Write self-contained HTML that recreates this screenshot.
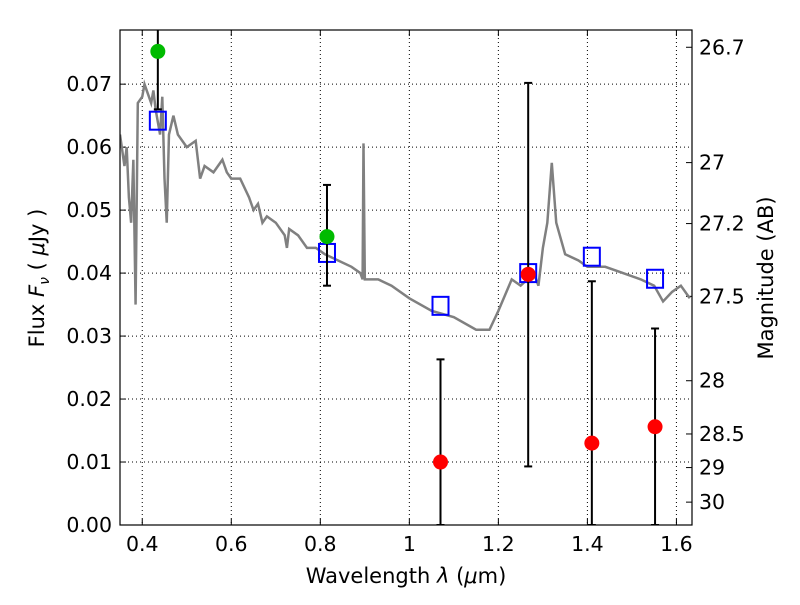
<!DOCTYPE html>
<html><head><meta charset="utf-8"><style>
body{margin:0;background:#fff;}
svg text{font-family:"DejaVu Sans","Liberation Sans",sans-serif;fill:#000;}
</style></head><body>
<svg id="c" width="800" height="600" xmlns="http://www.w3.org/2000/svg"></svg>
<script>
const xTicks=[0.4,0.6,0.8,1,1.2,1.4,1.6];
const xTickLabels=["0.4","0.6","0.8","1","1.2","1.4","1.6"];
const yTicks=[0,0.01,0.02,0.03,0.04,0.05,0.06,0.07];
const yTickLabels=["0.00","0.01","0.02","0.03","0.04","0.05","0.06","0.07"];
const magTicks=[26.7,27,27.2,27.5,28,28.5,29,30];
const magTickLabels=["26.7","27","27.2","27.5","28","28.5","29","30"];
const specWave=[0.35,0.36,0.365,0.37,0.375,0.38,0.385,0.39,0.40,0.405,0.41,0.42,0.425,0.43,0.44,0.445,0.45,0.455,0.46,0.47,0.48,0.50,0.52,0.53,0.54,0.56,0.58,0.59,0.60,0.62,0.64,0.65,0.66,0.67,0.68,0.70,0.72,0.725,0.73,0.75,0.77,0.79,0.81,0.84,0.87,0.89,0.895,0.897,0.90,0.93,0.96,1.00,1.05,1.10,1.15,1.18,1.20,1.23,1.25,1.28,1.29,1.30,1.31,1.32,1.33,1.35,1.38,1.40,1.44,1.48,1.52,1.55,1.57,1.59,1.61,1.63];
const specFlux=[0.062,0.057,0.060,0.052,0.048,0.058,0.035,0.067,0.068,0.070,0.069,0.067,0.069,0.066,0.062,0.068,0.055,0.048,0.062,0.065,0.062,0.060,0.061,0.055,0.057,0.056,0.058,0.056,0.055,0.055,0.052,0.050,0.051,0.048,0.049,0.048,0.046,0.044,0.047,0.046,0.044,0.044,0.043,0.042,0.041,0.040,0.039,0.0606,0.039,0.039,0.038,0.036,0.034,0.033,0.031,0.031,0.034,0.039,0.038,0.040,0.038,0.044,0.048,0.0575,0.048,0.043,0.042,0.041,0.041,0.040,0.039,0.038,0.0355,0.037,0.038,0.036];
const obsWave=[0.435,0.815,1.07,1.267,1.41,1.552];
const obsFlux=[0.0752,0.0458,0.010,0.0398,0.013,0.0156];
const obsLow=[0.066,0.038,0,0.0093,0,0];
const obsHigh=[0.09,0.054,0.0263,0.0702,0.0387,0.0312];
const obsColor=["#00bb00","#00bb00","#ff0000","#ff0000","#ff0000","#ff0000"];
const modelFlux=[0.0642,0.0432,0.0348,0.0400,0.0426,0.0391];

const L=120,R=692,T=30,B=525,X0=0.35,X1=1.635,Y0=0,Y1=0.0786;
const sx=v=>L+(v-X0)/(X1-X0)*(R-L);
const sy=v=>B-(v-Y0)/(Y1-Y0)*(B-T);
const svg=document.getElementById('c');const NS="http://www.w3.org/2000/svg";
function mk(t,a,p){const e=document.createElementNS(NS,t);for(const k in a)e.setAttribute(k,a[k]);(p||svg).appendChild(e);return e;}
const clip=mk('clipPath',{id:'pc'});mk('rect',{x:L,y:T,width:R-L,height:B-T},clip);
const grid=mk('g',{});
xTicks.forEach((v,i)=>{const x=sx(v);
 mk('line',{x1:x,x2:x,y1:T,y2:B,stroke:'#000','stroke-dasharray':'1,3','stroke-width':1},grid);
 mk('line',{x1:x,x2:x,y1:B,y2:B-6,stroke:'#000'});mk('line',{x1:x,x2:x,y1:T,y2:T+6,stroke:'#000'});
 const t=mk('text',{x:x,y:B+26,'font-size':20.5,'text-anchor':'middle'});t.textContent=xTickLabels[i];
 });
yTicks.forEach((v,i)=>{const y=sy(v);
 mk('line',{x1:L,x2:R,y1:y,y2:y,stroke:'#000','stroke-dasharray':'1,3','stroke-width':1},grid);
 mk('line',{x1:L,x2:L+6,y1:y,y2:y,stroke:'#000'});
 const t=mk('text',{x:L-8,y:y+7,'font-size':20.5,'text-anchor':'end'});t.textContent=yTickLabels[i];
 });
magTicks.forEach((m,i)=>{const y=sy(Math.pow(10,(23.9-m)/2.5));
 mk('line',{x1:R,x2:R-6,y1:y,y2:y,stroke:'#000'});
 const t=mk('text',{x:R+7,y:y+7,'font-size':20.5});t.textContent=magTickLabels[i];
 });
const sp=mk('polyline',{points:specWave.map((w,i)=>sx(w)+','+sy(specFlux[i])).join(' '),fill:'none',stroke:'#808080','stroke-width':2.5,'clip-path':'url(#pc)'});

obsWave.forEach((w,i)=>{const x=sx(w);
 const sq=mk('rect',{x:x-8,y:sy(modelFlux[i])-9,width:16,height:18,fill:'none',stroke:'#0000ff','stroke-width':2});
 
 const g=mk('g',{'clip-path':'url(#pc)'});
 mk('line',{x1:x,x2:x,y1:sy(obsLow[i]),y2:sy(obsHigh[i]),stroke:'#000','stroke-width':2},g);
 [obsLow[i],obsHigh[i]].forEach(v=>mk('line',{x1:x-4,x2:x+4,y1:sy(v),y2:sy(v),stroke:'#000','stroke-width':2},g));
 const c=mk('circle',{cx:x,cy:sy(obsFlux[i]),r:7.5,fill:obsColor[i]});
 });
const fr=mk('rect',{x:L,y:T,width:R-L,height:B-T,fill:'none',stroke:'#000','stroke-width':1.2});

let t=mk('text',{x:406,y:583,'font-size':21,'text-anchor':'middle'});t.innerHTML='Wavelength  <tspan font-style="italic">λ</tspan> (<tspan font-style="italic">μ</tspan>m)';

t=mk('text',{x:0,y:0,'font-size':21,'text-anchor':'middle',transform:'translate(44,278) rotate(-90)'});t.innerHTML='Flux  <tspan font-style="italic">F</tspan><tspan font-style="italic" font-size="14" dy="5">ν</tspan><tspan dy="-5">  (  </tspan><tspan font-style="italic">μ</tspan>Jy )';

t=mk('text',{x:0,y:0,'font-size':21,'text-anchor':'middle',transform:'translate(773,278) rotate(-90)'});t.textContent='Magnitude (AB)';

</script></body></html>
